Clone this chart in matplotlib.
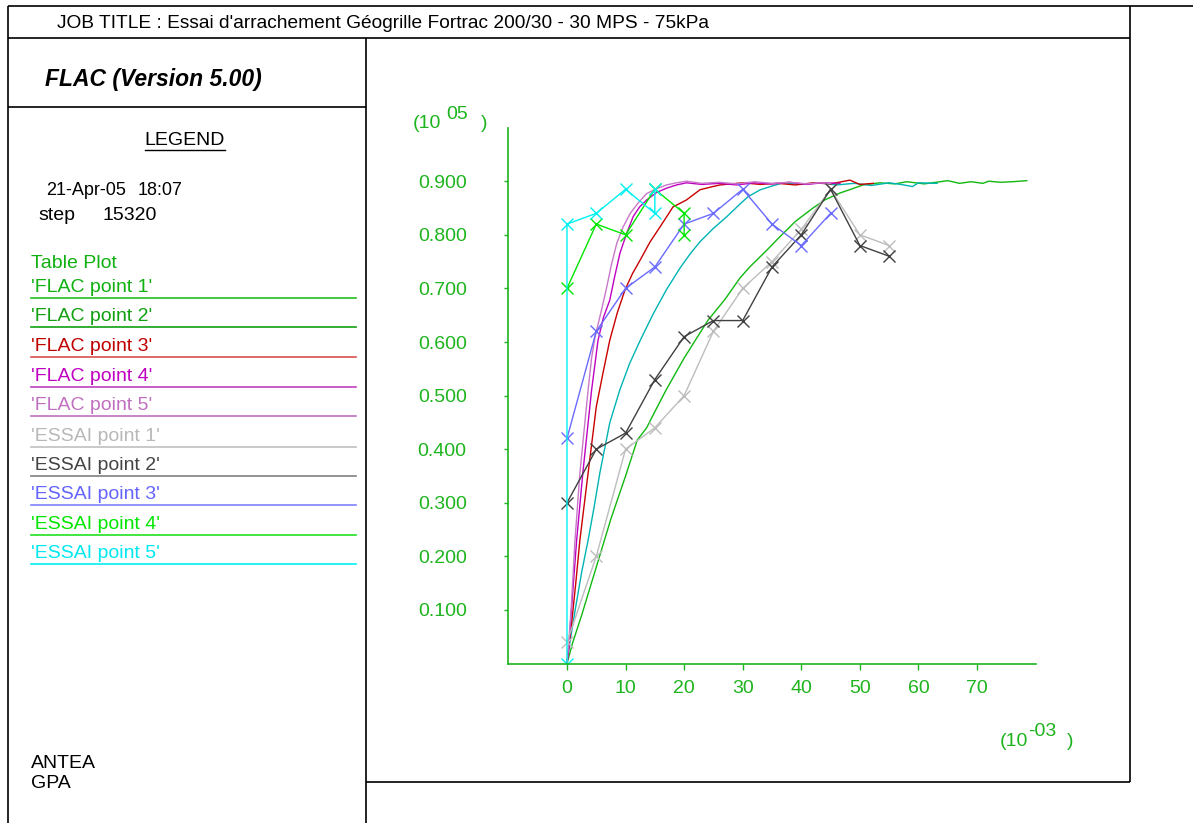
import matplotlib.pyplot as plt

plt.rcParams["font.family"] = ["Liberation Sans", "DejaVu Sans"]

W, H = 1193, 823
GREEN = "#1db41d"

# FLAC simulation curves (x in 1e-03, y in 1e05)
flac1_x = [0, 1, 2.5, 5, 7.5, 10, 12, 13.6, 15, 16.9, 20, 21.9, 24.1, 27, 29.5, 31.2, 34, 36.4,
           39, 42, 44, 46.6, 48.5, 50.5, 53.4, 56, 58, 61, 63, 65, 67, 69, 71, 72, 74, 76, 78.5]
flac1_y = [0, 0.04, 0.09, 0.18, 0.27, 0.35, 0.417, 0.44, 0.47, 0.51, 0.57, 0.603, 0.641, 0.68,
           0.719, 0.74, 0.77, 0.797, 0.825, 0.85, 0.865, 0.878, 0.885, 0.893, 0.897, 0.895,
           0.899, 0.895, 0.898, 0.901, 0.896, 0.899, 0.896, 0.900, 0.898, 0.899, 0.901]

flac2_x = [0, 0.5, 1.4, 2.5, 3.6, 4.6, 5.6, 7.3, 9.0, 10.7, 12.5, 14.7, 17, 19.3, 21, 22.7, 25,
           27.3, 29.5, 30.9, 33, 35, 36.9, 40, 43, 46, 49, 52, 55, 57, 59, 60, 63.2]
flac2_y = [0, 0.04, 0.10, 0.17, 0.23, 0.29, 0.355, 0.449, 0.51, 0.56, 0.603, 0.652, 0.698, 0.738,
           0.764, 0.787, 0.812, 0.834, 0.857, 0.871, 0.884, 0.891, 0.897, 0.894, 0.897, 0.893,
           0.896, 0.892, 0.897, 0.894, 0.890, 0.897, 0.896]

flac3_x = [0, 0.3, 0.8, 1.5, 2.2, 3.6, 5.0, 6.2, 7.3, 8.6, 9.9, 11.2, 12.5, 14.2, 15.9, 18.1,
           20.4, 22.7, 24.5, 26.1, 30, 33, 36, 39, 42, 45, 48.3, 50, 52.3]
flac3_y = [0, 0.03, 0.076, 0.15, 0.23, 0.355, 0.479, 0.545, 0.603, 0.655, 0.697, 0.728, 0.753,
           0.787, 0.815, 0.852, 0.865, 0.884, 0.889, 0.893, 0.897, 0.894, 0.896, 0.893, 0.897,
           0.895, 0.902, 0.894, 0.896]

flac4_x = [0, 0.3, 0.6, 1.1, 1.65, 2.7, 4.2, 5.3, 6.2, 7.3, 8.1, 9.05, 10.2, 11.3, 12.4, 13.6,
           15.3, 17, 18.7, 20.4, 23, 26, 29, 32, 35, 38, 41, 43.5, 46.6]
flac4_y = [0, 0.03, 0.076, 0.15, 0.23, 0.355, 0.51, 0.603, 0.645, 0.678, 0.72, 0.766, 0.803,
           0.834, 0.852, 0.865, 0.879, 0.887, 0.893, 0.897, 0.894, 0.896, 0.893, 0.897, 0.895,
           0.898, 0.894, 0.897, 0.896]

flac5_x = [0, 0.3, 0.7, 1.37, 2.2, 3.6, 4.2, 4.8, 5.9, 6.8, 7.6, 8.5, 9.6, 10.8, 12.2, 13.6,
           15.3, 17, 18.7, 20.4, 23, 26, 29, 32, 35, 38, 41, 43, 45]
flac5_y = [0, 0.04, 0.10, 0.23, 0.355, 0.51, 0.57, 0.61, 0.66, 0.703, 0.745, 0.784, 0.815,
           0.84, 0.86, 0.877, 0.886, 0.893, 0.897, 0.900, 0.896, 0.898, 0.895, 0.899, 0.896,
           0.898, 0.895, 0.897, 0.896]

# ESSAI (test) points
essai1_x = [0, 5, 10, 15, 20, 25, 30, 35, 40, 45, 50, 55]
essai1_y = [0.04, 0.20, 0.40, 0.44, 0.50, 0.62, 0.70, 0.75, 0.81, 0.885, 0.80, 0.78]

essai2_x = [0, 5, 10, 15, 20, 25, 30, 35, 40, 45, 50, 55]
essai2_y = [0.30, 0.40, 0.43, 0.53, 0.61, 0.64, 0.64, 0.74, 0.80, 0.885, 0.78, 0.76]

essai3_x = [0, 5, 10, 15, 20, 25, 30, 35, 40, 45]
essai3_y = [0.42, 0.62, 0.70, 0.74, 0.82, 0.84, 0.885, 0.82, 0.78, 0.84]

essai4_x = [0, 5, 10, 15, 20, 20]
essai4_y = [0.70, 0.82, 0.80, 0.885, 0.84, 0.80]

essai5_x = [0, 0, 5, 10, 15, 15]
essai5_y = [0.0, 0.82, 0.84, 0.885, 0.84, 0.885]

legend_names = ["'FLAC point 1'", "'FLAC point 2'", "'FLAC point 3'", "'FLAC point 4'",
                "'FLAC point 5'", "'ESSAI point 1'", "'ESSAI point 2'", "'ESSAI point 3'",
                "'ESSAI point 4'", "'ESSAI point 5'"]
legend_text_colors = ["#10b010", "#10a010", "#c00000", "#c000c0", "#c070c0",
                      "#b8b8b8", "#444444", "#6464ff", "#00e600", "#00e8f0"]
legend_line_colors = ["#20c020", "#10a010", "#d85050", "#c040c0", "#c070c0",
                      "#c0c0c0", "#808080", "#8080ff", "#20e020", "#00f0f0"]

y_ticks = [0.1, 0.2, 0.3, 0.4, 0.5, 0.6, 0.7, 0.8, 0.9]
y_labels = ["0.100", "0.200", "0.300", "0.400", "0.500", "0.600", "0.700", "0.800", "0.900"]
x_ticks = [0, 10, 20, 30, 40, 50, 60, 70]
x_labels = ["0", "10", "20", "30", "40", "50", "60", "70"]

fig = plt.figure(figsize=(W / 100, H / 100), dpi=100)

# background frame in pixel coordinates
bg = fig.add_axes([0, 0, 1, 1])
bg.set_xlim(0, W)
bg.set_ylim(H, 0)
bg.axis("off")

frame = [((8, 6), (1193, 6)), ((8, 6), (8, 823)), ((8, 38), (1130, 38)),
         ((8, 107), (366, 107)), ((366, 38), (366, 823)), ((1130, 6), (1130, 782)),
         ((366, 782), (1130, 782))]
for (x0, y0), (x1, y1) in frame:
    bg.plot([x0, x1], [y0, y1], color="black", lw=1.2, solid_capstyle="butt")

bg.text(57, 28, "JOB TITLE : Essai d'arrachement Géogrille Fortrac 200/30 - 30 MPS - 75kPa",
        fontsize=13.8, va="baseline")
bg.text(45, 86, "FLAC (Version 5.00)", fontsize=16.5, fontweight="bold", fontstyle="italic",
        va="baseline")
bg.text(185, 145, "LEGEND", fontsize=14, ha="center", va="baseline")
bg.plot([145, 225], [150, 150], color="black", lw=1)
bg.text(46, 195, "21-Apr-05", fontsize=13, va="baseline")
bg.text(138, 195, "18:07", fontsize=13, va="baseline")
bg.text(38, 220, "step", fontsize=14, va="baseline")
bg.text(103, 220, "15320", fontsize=14, va="baseline")
bg.text(31, 268, "Table Plot", fontsize=14, color="#10b010", va="baseline")

line_y = [298, 327, 357, 387, 416, 447, 476, 505, 535, 564]
for name, tc, lc, ly in zip(legend_names, legend_text_colors, legend_line_colors, line_y):
    bg.text(31, ly - 6, name, fontsize=14, color=tc, va="baseline")
    bg.plot([31, 356], [ly, ly], color=lc, lw=1.2)

bg.text(31, 768, "ANTEA", fontsize=14, va="baseline")
bg.text(31, 788, "GPA", fontsize=14, va="baseline")

# axis multipliers
bg.text(413, 123, "(10", fontsize=14, color=GREEN, va="center")
bg.text(446, 114, "05", fontsize=14, color=GREEN, va="center")
bg.text(481, 123, ")", fontsize=14, color=GREEN, va="center")
bg.text(1000, 741, "(10", fontsize=14, color=GREEN, va="center")
bg.text(1028, 731, "-03", fontsize=14, color=GREEN, va="center")
bg.text(1067, 741, ")", fontsize=14, color=GREEN, va="center")

# plot area
ax = fig.add_axes([508.4 / W, 1 - 663.6 / H, 527.2 / W, 536 / H])
ax.patch.set_alpha(0)

ax.plot(flac1_x, flac1_y, color="#10b810", lw=1)
ax.plot(flac2_x, flac2_y, color="#00b4b4", lw=1)
ax.plot(flac3_x, flac3_y, color="#c80000", lw=1)
ax.plot(flac4_x, flac4_y, color="#c000c0", lw=1)
ax.plot(flac5_x, flac5_y, color="#c878c8", lw=1)

mk = dict(marker="x", markersize=8, markeredgewidth=1, lw=1)
ax.plot(essai1_x, essai1_y, color="#bdbdbd", **mk)
ax.plot(essai2_x, essai2_y, color="#404040", **mk)
ax.plot(essai3_x, essai3_y, color="#6a6aff", **mk)
ax.plot(essai4_x, essai4_y, color="#00e600", **mk)
ax.plot(essai5_x, essai5_y, color="#00f0f0", **mk)

ax.set_xlim(-10, 80)
ax.set_ylim(0, 1.0)
for s in ["top", "right"]:
    ax.spines[s].set_visible(False)
for s in ["left", "bottom"]:
    ax.spines[s].set_color(GREEN)
    ax.spines[s].set_linewidth(1.2)

ax.set_yticks(y_ticks)
ax.set_yticklabels(y_labels)
ax.set_xticks(x_ticks)
ax.set_xticklabels(x_labels)
ax.tick_params(axis="y", direction="out", length=3, width=1, color=GREEN,
               labelcolor=GREEN, labelsize=14, pad=27)
ax.tick_params(axis="x", direction="out", length=4, width=1, color=GREEN,
               labelcolor=GREEN, labelsize=14, pad=8)

fig.savefig("out.png", dpi=100)
